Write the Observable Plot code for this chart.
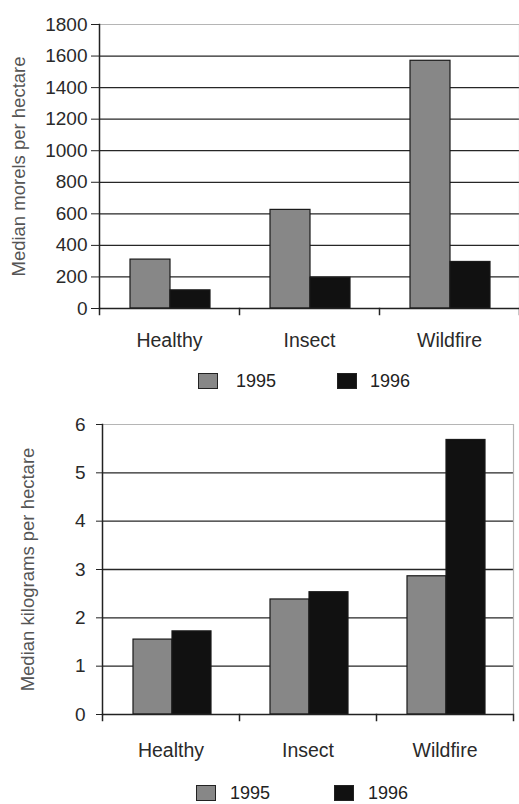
<!DOCTYPE html>
<html>
<head>
<meta charset="utf-8">
<script src="https://cdn.jsdelivr.net/npm/d3@7"></script>
<script src="https://cdn.jsdelivr.net/npm/@observablehq/plot@0.6"></script>
<style>
  html, body { margin: 0; padding: 0; background: #fff; overflow: hidden; }
  #wrap { position: relative; width: 519px; height: 804px; font-family: "Liberation Sans", Arial, sans-serif; }
  .chart { position: absolute; left: 0; }
  .legend { position: absolute; left: 0; width: 519px; height: 20px; }
  .sw { position: absolute; width: 20px; height: 16px; border: 1px solid #222; box-sizing: border-box; }
  .lt { position: absolute; font-size: 18px; line-height: 18px; color: #222; }
</style>
</head>
<body>
<div id="wrap">
  <div id="c1" class="chart" style="top:0px"></div>
  <div id="l1" class="legend" style="top:372px"></div>
  <div id="c2" class="chart" style="top:400px"></div>
  <div id="l2" class="legend" style="top:784px"></div>
</div>
<script>
const categories = ["Healthy", "Insect", "Wildfire"];
const years = ["1995", "1996"];
const morels1995 = [310, 625, 1570];
const morels1996 = [115, 195, 295];
const kg1995 = [1.55, 2.38, 2.86];
const kg1996 = [1.72, 2.53, 5.68];
const morelTicks = [0, 200, 400, 600, 800, 1000, 1200, 1400, 1600, 1800];
const kgTicks = [0, 1, 2, 3, 4, 5, 6];
const yearColors = ["#878787", "#111111"];

function rows(a, b) {
  const out = [];
  categories.forEach((c, i) => {
    out.push({category: c, year: years[0], value: a[i]});
    out.push({category: c, year: years[1], value: b[i]});
  });
  return out;
}

function makeChart({data, ticks, label, marginLeft, marginRight, height, marginBottom, ytickSize, ytickPadding, labelOffset, fxPadding}) {
  const top = ticks[ticks.length - 1];
  const plotH = height - 24 - marginBottom;
  return Plot.plot({
    width: 519,
    height,
    marginLeft,
    marginRight,
    marginTop: 24,
    marginBottom,
    style: {fontFamily: "'Liberation Sans', Arial, sans-serif", background: "transparent", color: "#222"},
    fx: {domain: categories, padding: 0, label: null, axis: null},
    x: {domain: years, paddingInner: 0, paddingOuter: 0.715, align: 0.52, axis: null},
    y: {domain: [0, top], axis: null},
    color: {domain: years, range: yearColors},
    marks: [
      Plot.gridY(ticks.slice(1, -1), {stroke: "#262626", strokeOpacity: 1, strokeWidth: 1.3}),
      Plot.ruleY([top], {stroke: "#b5b5b5", strokeWidth: 1.2}),
      Plot.frame({anchor: "right", facetAnchor: "right", stroke: "#b5b5b5", strokeWidth: 1.2}),
      Plot.barY(data, {fx: "category", x: "year", y: "value", fill: "year", stroke: "#1a1a1a", strokeWidth: 1.2}),
      Plot.ruleY([0], {stroke: "#222", strokeWidth: 1.6}),
      Plot.frame({anchor: "left", facetAnchor: "left", stroke: "#222", strokeWidth: 1.5}),
      Plot.frame({anchor: "left", insetTop: plotH, insetBottom: -6, stroke: "#222", strokeWidth: 1.5}),
      Plot.frame({anchor: "right", facetAnchor: "right", insetTop: plotH, insetBottom: -6, stroke: "#222", strokeWidth: 1.5}),
      Plot.axisY({ticks, tickFormat: d => String(d), tickSize: ytickSize, tickPadding: ytickPadding, fontSize: 19, stroke: "#222", fill: "#2a2a2a",
        label, labelAnchor: "center", labelArrow: "none", labelOffset}),
      Plot.axisFx({anchor: "bottom", tickSize: 0, tickPadding: fxPadding, fontSize: 19.5, fill: "#2a2a2a", label: null})
    ]
  });
}

const c1 = makeChart({data: rows(morels1995, morels1996), ticks: morelTicks, label: "Median morels per hectare",
  marginLeft: 98, marginRight: 0, height: 360, marginBottom: 52, ytickSize: 8, ytickPadding: 4, labelOffset: 88, fxPadding: 25});
document.getElementById("c1").appendChild(c1);

const c2 = makeChart({data: rows(kg1995, kg1996), ticks: kgTicks, label: "Median kilograms per hectare",
  marginLeft: 101, marginRight: 6, height: 364, marginBottom: 50, ytickSize: 6, ytickPadding: 11, labelOffset: 82, fxPadding: 28.5});
document.getElementById("c2").appendChild(c2);

// style y-axis titles a bit lighter
for (const svg of [c1, c2]) {
  svg.querySelectorAll("text").forEach(t => {
    if (/Median/.test(t.textContent)) { t.setAttribute("fill", "#555"); t.style.fontSize = "18.5px"; }
  });
}

function legend(el, items) {
  items.forEach((it, i) => {
    const sw = document.createElement("div");
    sw.className = "sw";
    sw.style.left = it.sx + "px";
    sw.style.top = "1px";
    sw.style.background = yearColors[i];
    el.appendChild(sw);
    const t = document.createElement("div");
    t.className = "lt";
    t.style.left = it.tx + "px";
    t.style.top = "0px";
    t.textContent = years[i];
    el.appendChild(t);
  });
}
legend(document.getElementById("l1"), [{sx: 198, tx: 236}, {sx: 337, tx: 370}]);
legend(document.getElementById("l2"), [{sx: 196, tx: 230}, {sx: 334, tx: 368}]);
</script>
</body>
</html>
